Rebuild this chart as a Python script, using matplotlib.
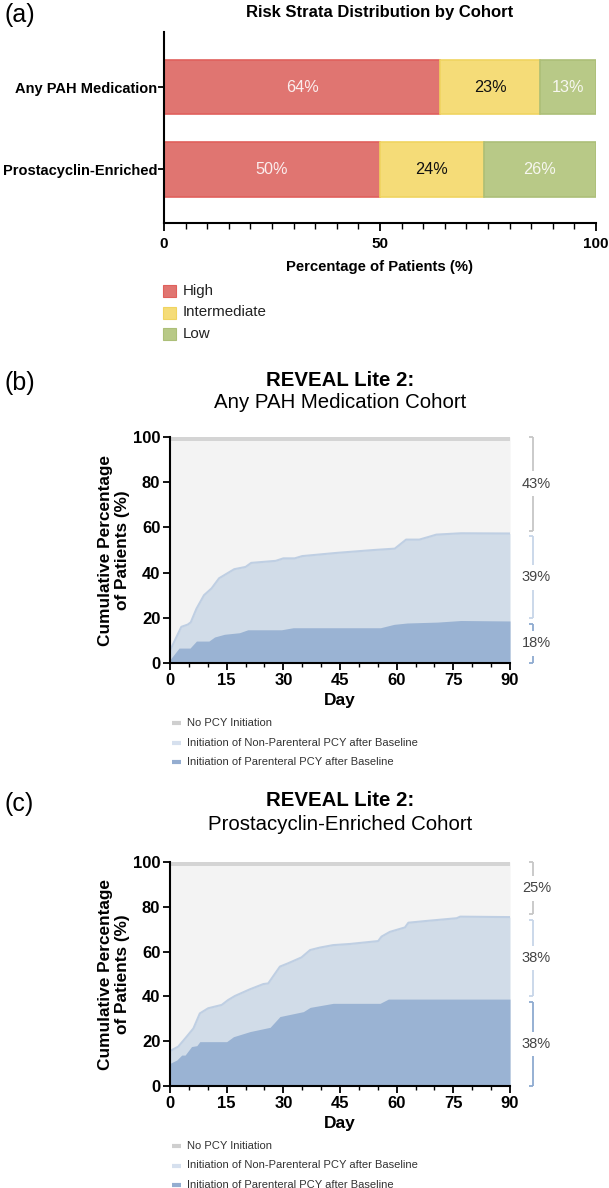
import matplotlib
matplotlib.use('Agg')
import matplotlib.pyplot as plt
from matplotlib.lines import Line2D
from matplotlib.patches import Rectangle
from matplotlib.ticker import MultipleLocator, FixedLocator
import numpy as np

plt.rcParams['font.family'] = ['Liberation Sans', 'DejaVu Sans']

# ---------------- Data ----------------
# Panel (a)
cohorts = ['Prostacyclin-Enriched', 'Any PAH Medication']
strata = ['High', 'Intermediate', 'Low']
pct_high = [50, 64]
pct_intermediate = [24, 23]
pct_low = [26, 13]
a_xticks = [0, 50, 100]

# Panel (b): Any PAH Medication cohort (cumulative %)
b_nonpar_days = [0, 1, 3, 4.7, 5.5, 7, 9, 11, 13, 15, 17, 20, 21.5, 28, 30, 33, 35, 44, 54, 59.5, 62.5, 66, 68.5, 70.5, 77, 90]
b_nonpar = [5.5, 9, 16, 17, 18, 24, 30, 33, 37.5, 39.5, 41.5, 42.5, 44.3, 45.2, 46.3, 46.3, 47.3, 48.7, 50, 50.6, 54.6, 54.6, 55.8, 56.8, 57.4, 57.3]
b_par_days = [0, 2.4, 5.3, 7, 10.3, 11.8, 14.4, 18.4, 20.6, 29.5, 32.6, 55.7, 59.3, 62.8, 70.8, 77, 90]
b_par = [1.5, 6.6, 6.6, 9.7, 9.7, 11.5, 12.7, 13.4, 14.7, 14.7, 15.6, 15.6, 17.1, 17.7, 18.1, 18.8, 18.6]
b_share_labels = ['43%', '39%', '18%']

# Panel (c): Prostacyclin-Enriched cohort (cumulative %)
c_nonpar_days = [0, 2.2, 4.4, 6.2, 7.9, 10.1, 13.7, 15.4, 17.2, 21.2, 24.7, 26, 29.1, 31.3, 34.8, 37.1, 39.7, 43.2, 47.6, 55.1, 56, 58.2, 62.2, 63.1, 68, 75.9, 76.8, 90]
c_nonpar = [15.6, 17.6, 22, 25.7, 32.4, 34.7, 36.2, 38.4, 40.2, 43.2, 45.5, 45.8, 53.3, 54.8, 57.4, 60.7, 61.8, 62.9, 63.4, 64.7, 66.7, 68.8, 70.8, 72.9, 73.7, 74.9, 75.6, 75.4]
c_par_days = [0, 1.8, 3.1, 4, 5.7, 7.1, 7.9, 15, 16.8, 21.2, 26.5, 29.1, 35.3, 37.1, 43.2, 55.6, 57.8, 90]
c_par = [10.1, 11.6, 13.8, 13.8, 17.6, 18, 19.8, 19.8, 22, 24.3, 26.2, 31, 33.2, 35.1, 36.9, 36.9, 38.8, 38.8]
c_share_labels = ['25%', '38%', '38%']

legend_labels = ['No PCY Initiation',
                 'Initiation of Non-Parenteral PCY after Baseline',
                 'Initiation of Parenteral PCY after Baseline']

# ---------------- Style ----------------
W, H = 609, 1188
fig = plt.figure(figsize=(W / 100, H / 100), dpi=100)

def fx(px):
    return px / W

def fy(py):
    return 1 - py / H

col_high, edge_high = '#e07571', '#e0605c'
col_int, edge_int = '#f5dc78', '#f0d460'
col_low, edge_low = '#b8c987', '#acbf78'

col_none = '#f3f3f3'
col_none_line = '#d4d4d4'
col_nonpar = '#d1dce8'
col_nonpar_line = '#bfcfe3'
col_par = '#9ab3d3'

# ---------------- Panel (a) ----------------
axA = fig.add_axes([fx(164), fy(223.3), fx(596 - 164), (223.3 - 32.3) / H])
ypos = np.arange(len(cohorts))
bh = 0.66
lefts = np.zeros(len(cohorts))
text_cols = ['#fbeeee', '#111111', '#f7f7f0']
for vals, fc, ec, tc in zip([pct_high, pct_intermediate, pct_low],
                            [col_high, col_int, col_low],
                            [edge_high, edge_int, edge_low], text_cols):
    vals = np.array(vals, dtype=float)
    axA.barh(ypos, vals, left=lefts, height=bh, color=fc, edgecolor=ec, linewidth=1.2)
    for y, l, v in zip(ypos, lefts, vals):
        axA.text(l + v / 2, y, f'{int(v)}%', ha='center', va='center', fontsize=11.7, color=tc)
    lefts = lefts + vals

axA.set_xlim(0, 100)
axA.set_ylim(-0.656, 1.67)
axA.set_yticks(ypos)
axA.set_yticklabels(cohorts, fontsize=10.5, fontweight='bold')
axA.xaxis.set_major_locator(FixedLocator(a_xticks))
axA.xaxis.set_minor_locator(MultipleLocator(5))
axA.set_xticklabels([str(t) for t in a_xticks], fontsize=11, fontweight='bold')
axA.tick_params(axis='x', which='major', length=6, width=1.3, pad=4)
axA.tick_params(axis='x', which='minor', length=4, width=1.0)
axA.tick_params(axis='y', length=4, width=1.3, pad=1)
for s in ['top', 'right']:
    axA.spines[s].set_visible(False)
for s in ['left', 'bottom']:
    axA.spines[s].set_linewidth(1.5)
axA.set_xlabel('Percentage of Patients (%)', fontsize=10.7, fontweight='bold', labelpad=6)

fig.text(fx(380), fy(12), 'Risk Strata Distribution by Cohort', ha='center', va='center',
         fontsize=12, fontweight='bold')
fig.text(fx(5), fy(15), '(a)', ha='left', va='center', fontsize=18)

for i, (lab, fc, ec) in enumerate(zip(strata, [col_high, col_int, col_low], [edge_high, edge_int, edge_low])):
    yc = 291 + i * 21.5
    fig.add_artist(Rectangle((fx(163), fy(yc + 6)), fx(13), 12 / H, facecolor=fc,
                             edgecolor=ec, linewidth=0.8, transform=fig.transFigure))
    fig.text(fx(183), fy(yc), lab, ha='left', va='center', fontsize=10.9, color='#222222')


# ---------------- Panels (b) and (c) ----------------
def km_panel(top_px, bot_px, label, title_y, sub, days_np, nonpar, days_p, par, shares, legend_y):
    ax = fig.add_axes([fx(170), fy(bot_px), fx(510 - 170), (bot_px - top_px) / H])
    days_np = np.array(days_np, float)
    nonpar = np.array(nonpar, float)
    days_p = np.array(days_p, float)
    par = np.array(par, float)
    ax.fill_between(days_np, nonpar, 100, color=col_none, linewidth=0)
    ax.fill_between(days_np, 0, nonpar, color=col_nonpar, linewidth=0)
    ax.plot(days_np, nonpar, color=col_nonpar_line, linewidth=1.5)
    ax.fill_between(days_p, 0, par, color=col_par, linewidth=0)
    ax.plot([0, 90], [100, 100], color=col_none_line, linewidth=5)
    ax.set_xlim(0, 90)
    ax.set_ylim(0, 100)
    ax.xaxis.set_major_locator(MultipleLocator(15))
    ax.xaxis.set_minor_locator(MultipleLocator(5))
    ax.yaxis.set_major_locator(MultipleLocator(20))
    for s in ['top', 'right']:
        ax.spines[s].set_visible(False)
    for s in ['left', 'bottom']:
        ax.spines[s].set_linewidth(1.5)
        ax.spines[s].set_zorder(5)
    ax.tick_params(axis='both', which='major', length=5, width=1.3, labelsize=12, pad=2)
    ax.tick_params(axis='x', which='minor', length=3, width=1.0)
    for t in ax.get_xticklabels() + ax.get_yticklabels():
        t.set_fontweight('bold')
    ax.set_xlabel('Day', fontsize=12.5, fontweight='bold', labelpad=4)
    ax.text(-0.165, 0.5, 'Cumulative Percentage\nof Patients (%)', transform=ax.transAxes,
            rotation=90, ha='center', va='center', fontsize=12.4, fontweight='bold',
            linespacing=1.2)

    # brackets on the right
    bounds = [100, nonpar[-1], par[-1], 0]
    bcols = ['#c6c6c6', '#c7d5e8', '#8eaad0']
    xb = 96.1
    for k in range(3):
        hi = bounds[k] - (0 if k == 0 else 1.2)
        lo = bounds[k + 1] + (0 if k == 2 else 1.2)
        mid = (hi + lo) / 2
        gap = 5.5
        kw = dict(color=bcols[k], linewidth=1.3, clip_on=False, solid_capstyle='butt')
        ax.plot([xb, xb], [hi, mid + gap], **kw)
        ax.plot([xb, xb], [mid - gap, lo], **kw)
        ax.plot([xb - 1.2, xb], [hi, hi], **kw)
        ax.plot([xb - 1.2, xb], [lo, lo], **kw)
        ax.text(xb + 0.9, mid, shares[k], ha='center', va='center', fontsize=10.5,
                color='#444444', clip_on=False)

    fig.text(fx(5), fy(title_y + 3), label, ha='left', va='center', fontsize=18)
    fig.text(fx(340), fy(title_y), 'REVEAL Lite 2:', ha='center', va='center',
             fontsize=14.7, fontweight='bold')
    fig.text(fx(340), fy(title_y + 23), sub, ha='center', va='center', fontsize=14.7)

    lcols = ['#cfcfcf', '#d6e0ee', '#94add0']
    for i, (lab, lc) in enumerate(zip(legend_labels, lcols)):
        yl = legend_y + i * 19.5
        fig.add_artist(Line2D([fx(172), fx(181)], [fy(yl), fy(yl)], color=lc, linewidth=3,
                              transform=fig.transFigure, solid_capstyle='butt'))
        fig.text(fx(187), fy(yl), lab, ha='left', va='center', fontsize=8, color='#333333')
    return ax


km_panel(437, 663, '(b)', 380, 'Any PAH Medication Cohort',
         b_nonpar_days, b_nonpar, b_par_days, b_par, b_share_labels, 723)
km_panel(862, 1086, '(c)', 801, 'Prostacyclin-Enriched Cohort',
         c_nonpar_days, c_nonpar, c_par_days, c_par, c_share_labels, 1146)

fig.savefig('out.png', dpi=100)
